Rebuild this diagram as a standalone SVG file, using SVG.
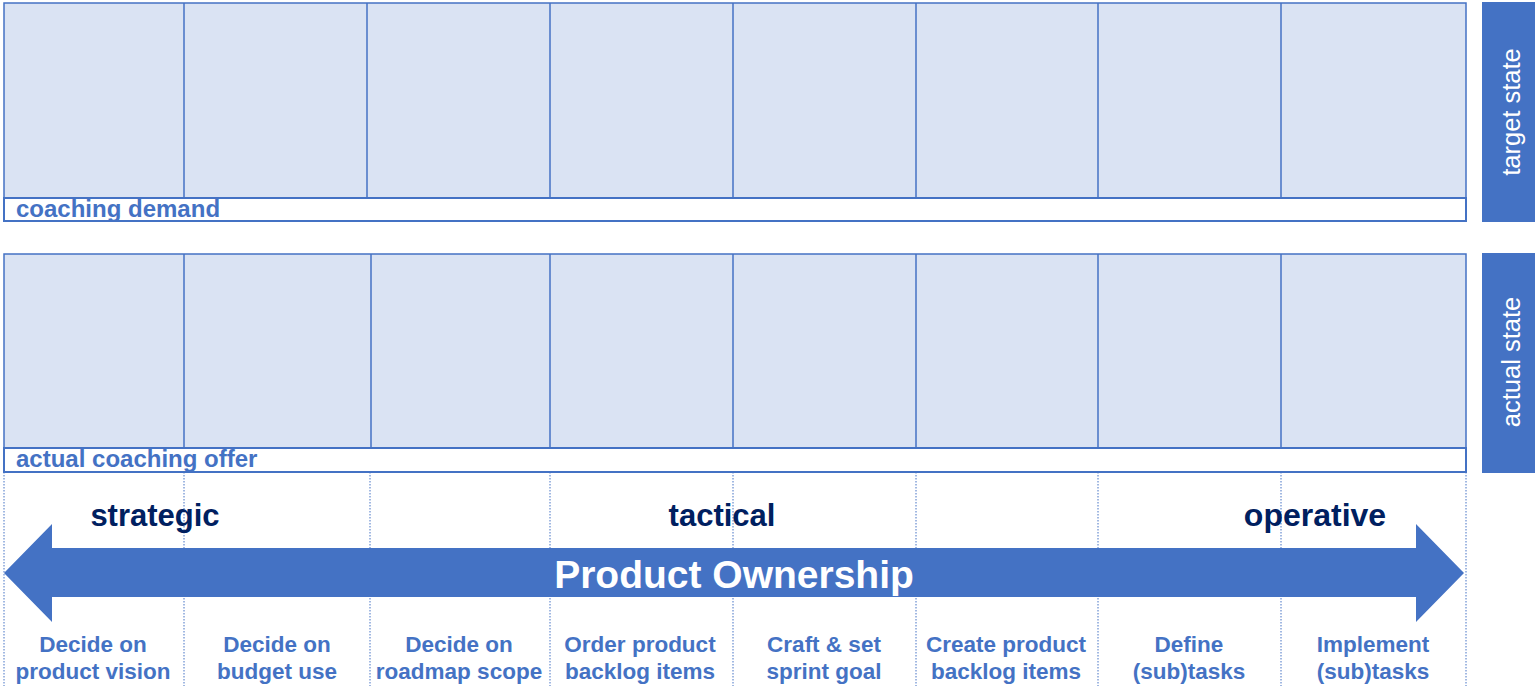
<svg xmlns="http://www.w3.org/2000/svg" width="1537" height="688" viewBox="0 0 1537 688">
<style>
.cell{fill:#DAE3F3;stroke:#4472C4;stroke-width:1.5}
.strip{fill:#FFFFFF;stroke:#4472C4;stroke-width:2}
.div{stroke:#4472C4;stroke-width:1.5}
.dot{stroke:#4472C4;stroke-width:1;stroke-dasharray:1.5 1.5}
.lbl{font-family:"Liberation Sans",Arial,sans-serif;font-weight:bold;font-size:24px;fill:#4472C4}
.lvl{font-family:"Liberation Sans",Arial,sans-serif;font-weight:bold;font-size:31px;fill:#002060;text-anchor:middle}
.task{font-family:"Liberation Sans",Arial,sans-serif;font-weight:bold;font-size:22.5px;fill:#4472C4;text-anchor:middle}
.side{fill:#4472C4}
.sidet{font-family:"Liberation Sans",Arial,sans-serif;font-size:25.5px;fill:#FFFFFF;text-anchor:middle}
</style>
<rect width="1537" height="688" fill="#FFFFFF"/>

<g id="target-panel">
  <rect class="cell" x="4" y="3" width="1462" height="195"/>
  <line class="div" x1="184" y1="3" x2="184" y2="198"/>
  <line class="div" x1="367" y1="3" x2="367" y2="198"/>
  <line class="div" x1="550" y1="3" x2="550" y2="198"/>
  <line class="div" x1="733" y1="3" x2="733" y2="198"/>
  <line class="div" x1="916" y1="3" x2="916" y2="198"/>
  <line class="div" x1="1098" y1="3" x2="1098" y2="198"/>
  <line class="div" x1="1281" y1="3" x2="1281" y2="198"/>
  <rect class="strip" x="4" y="198" width="1462" height="23"/>
  <text class="lbl" x="16" y="217">coaching demand</text>
</g>

<g id="actual-panel">
  <rect class="cell" x="4" y="254" width="1462" height="194"/>
  <line class="div" x1="184" y1="254" x2="184" y2="448"/>
  <line class="div" x1="371" y1="254" x2="371" y2="448"/>
  <line class="div" x1="550" y1="254" x2="550" y2="448"/>
  <line class="div" x1="733" y1="254" x2="733" y2="448"/>
  <line class="div" x1="916" y1="254" x2="916" y2="448"/>
  <line class="div" x1="1098" y1="254" x2="1098" y2="448"/>
  <line class="div" x1="1281" y1="254" x2="1281" y2="448"/>
  <rect class="strip" x="4" y="448" width="1462" height="24"/>
  <text class="lbl" x="16" y="467">actual coaching offer</text>
</g>

<g id="target-state-label">
  <rect class="side" x="1482" y="2" width="53" height="220"/>
  <text class="sidet" transform="translate(1520,112) rotate(-90)">target state</text>
</g>
<g id="actual-state-label">
  <rect class="side" x="1482" y="253" width="53" height="220"/>
  <text class="sidet" transform="translate(1520,362) rotate(-90)">actual state</text>
</g>

<g id="connectors">
  <line class="dot" x1="4" y1="472" x2="4" y2="686"/>
  <line class="dot" x1="184" y1="472" x2="184" y2="686"/>
  <line class="dot" x1="370" y1="472" x2="370" y2="686"/>
  <line class="dot" x1="550" y1="472" x2="550" y2="686"/>
  <line class="dot" x1="733" y1="472" x2="733" y2="686"/>
  <line class="dot" x1="916" y1="472" x2="916" y2="686"/>
  <line class="dot" x1="1098" y1="472" x2="1098" y2="686"/>
  <line class="dot" x1="1281" y1="472" x2="1281" y2="686"/>
  <line class="dot" x1="1466" y1="472" x2="1466" y2="686"/>
</g>

<g id="level-labels">
  <text class="lvl" x="155" y="526">strategic</text>
  <text class="lvl" x="722" y="526">tactical</text>
  <text class="lvl" x="1315" y="526" style="font-size:32px">operative</text>
</g>

<g id="product-ownership-arrow">
  <polygon fill="#4472C4" points="4,573 52,524 52,548 1416,548 1416,524 1464,573 1416,622 1416,597 52,597 52,622"/>
  <text x="734" y="588" text-anchor="middle" font-family="'Liberation Sans',Arial,sans-serif" font-weight="bold" font-size="39" fill="#FFFFFF">Product Ownership</text>
</g>

<g id="task-1"><text class="task" x="93" y="652">Decide on</text><text class="task" x="93" y="679">product vision</text></g>
<g id="task-2"><text class="task" x="277" y="652">Decide on</text><text class="task" x="277" y="679">budget use</text></g>
<g id="task-3"><text class="task" x="459" y="652">Decide on</text><text class="task" x="459" y="679">roadmap scope</text></g>
<g id="task-4"><text class="task" x="640" y="652">Order product</text><text class="task" x="640" y="679">backlog items</text></g>
<g id="task-5"><text class="task" x="824" y="652">Craft &amp; set</text><text class="task" x="824" y="679">sprint goal</text></g>
<g id="task-6"><text class="task" x="1006" y="652">Create product</text><text class="task" x="1006" y="679">backlog items</text></g>
<g id="task-7"><text class="task" x="1189" y="652">Define</text><text class="task" x="1189" y="679">(sub)tasks</text></g>
<g id="task-8"><text class="task" x="1373" y="652">Implement</text><text class="task" x="1373" y="679">(sub)tasks</text></g>
</svg>
